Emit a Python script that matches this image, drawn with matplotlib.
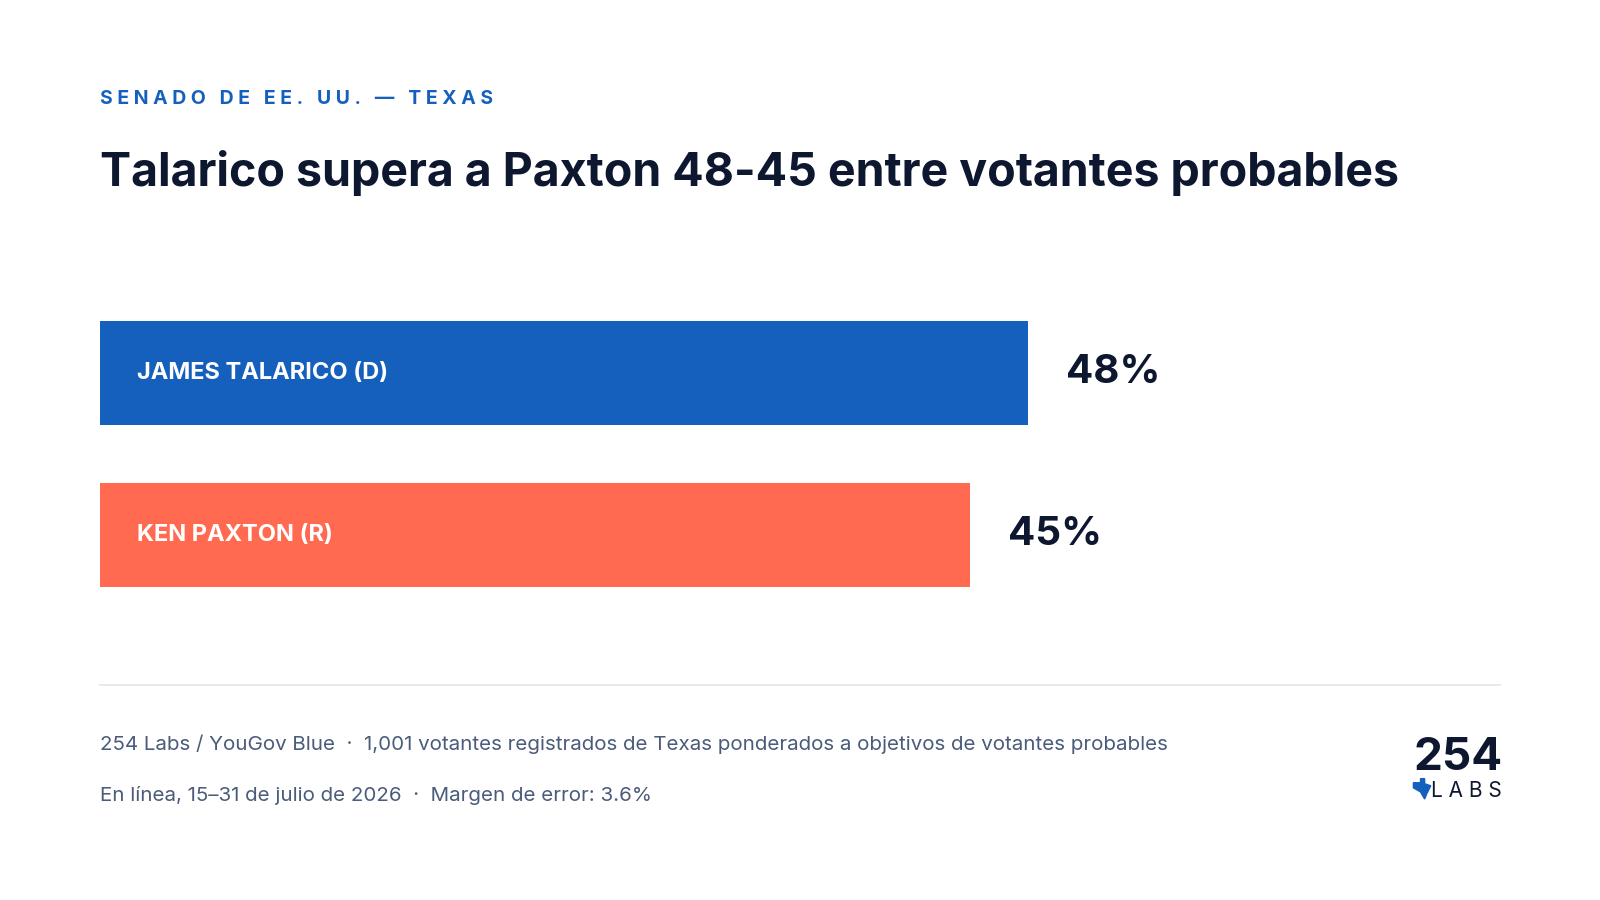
import matplotlib.pyplot as plt
from matplotlib.patches import Polygon

candidatos = ['JAMES TALARICO (D)', 'KEN PAXTON (R)']
valores = [48, 45]
colores = ['#1560BD', '#FF6A50']

W, H = 1600, 900
S = 1.0205  # coordenadas medidas en la vista reducida
fig = plt.figure(figsize=(16, 9), dpi=100)
fig.patch.set_facecolor('white')

def px(x, y):
    return x * S / W, 1 - y * S / H

oscuro = '#0E1730'
gris = '#4A5C7A'

fig.text(*px(98, 97), 'S E N A D O   D E   E E .   U U .   —   T E X A S', color='#1560BD',
         fontsize=14, fontweight='bold', family='Inter', va='center')
fig.text(*px(98, 170), 'Talarico supera a Paxton 48-45 entre votantes probables', color=oscuro,
         fontsize=33.5, fontweight='bold', family='Inter', va='center')

# eje de barras: 98..1470 px, 18.94 px por punto
x0, y0 = px(98, 590)
x1, y1 = px(1470, 300)
ax = fig.add_axes([x0, y0, x1 - x0, y1 - y0])
ax.set_xlim(0, 1372 / 18.94)
ax.set_ylim(1.415, -0.41)
ax.axis('off')
for i, (c, v, col) in enumerate(zip(candidatos, valores, colores)):
    ax.barh(i, v, height=0.64, color=col)
    ax.text(1.9, i, c, color='white', fontsize=17, fontweight='bold', family='Inter', va='center')
    ax.text(v + 2.0, i, f'{v}%', color=oscuro, fontsize=29, fontweight='bold', family='Inter', va='center')

a, yl = px(98, 671)
b, _ = px(1470, 671)
fig.add_artist(plt.Line2D([a, b], [yl, yl], color='#E2E5EA', lw=1.2))

fig.text(*px(98, 729), '254 Labs / YouGov Blue  ·  1,001 votantes registrados de Texas ponderados a objetivos de votantes probables',
         color=gris, fontsize=14.8, family='Inter', va='center')
fig.text(*px(98, 780), 'En línea, 15–31 de julio de 2026  ·  Margen de error: 3.6%',
         color=gris, fontsize=14.8, family='Inter', va='center')

fig.text(*px(1472, 743), '254', color=oscuro, fontsize=33, fontweight='bold', family='Inter',
         ha='right', va='center')
fig.text(*px(1472, 775), 'L A B S', color=oscuro, fontsize=15, family='Inter', ha='right', va='center')
estrella = [(1385, 767), (1392, 767), (1392, 763), (1396, 763), (1396, 768), (1402, 770),
            (1398, 778), (1396, 783), (1392, 776), (1385, 772)]
fig.add_artist(Polygon([px(x, y) for x, y in estrella], closed=True, color='#1560BD',
                       transform=fig.transFigure))

fig.savefig('out.png', dpi=100)
